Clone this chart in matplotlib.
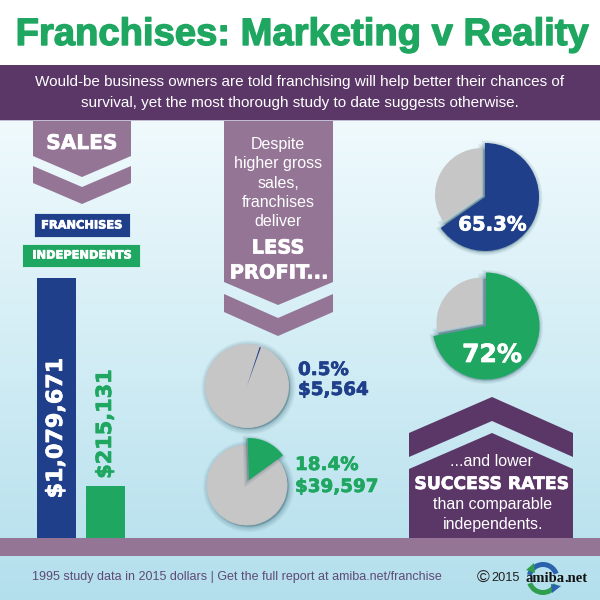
import numpy as np
import matplotlib
matplotlib.use("Agg")
import matplotlib.pyplot as plt
import matplotlib.patheffects as pe
from matplotlib.patches import Polygon, Rectangle, Wedge

plt.rcParams['font.family'] = ['Liberation Sans', 'DejaVu Sans']

# chart values
categories = ['FRANCHISES', 'INDEPENDENTS']
sales = [1079671, 215131]
sales_labels = ['$1,079,671', '$215,131']
success_rates = [65.3, 72.0]
success_labels = ['65.3%', '72%']
profit_shares = [0.5, 15.6]    # as drawn, the green slice is smaller than its 18.4% label
profit_labels = ['0.5%\n$5,564', '18.4%\n$39,597']

BLUE = '#1f3f8b'
GREEN = '#1fa761'
GRAY = '#c6c6c6'
PURPLE = '#5b3768'
MAUVE = '#947596'
SHADOW = '#24505f'


def px_axes(fig, left, top, right, bottom, **kw):
    # axes from pixel edges, y counted from the top of a 600px figure
    return fig.add_axes([left/600, 1-bottom/600, (right-left)/600, (bottom-top)/600], **kw)


def shadow(ax, center, r, t1, t2, dx=1.5, dy=-1.5):
    for w in [8, 6.5, 5, 3.5, 2.5, 1.5, 0.8]:
        ax.add_patch(Wedge((center[0]+dx, center[1]+dy), r, t1, t2, fc=SHADOW, ec=SHADOW,
                           lw=w, alpha=0.05, zorder=0))


def slice_pie(fig, cx, cy, share, color, startangle, r_col, r_gray, gray_off=(0, 0), full_gray=False):
    ax = px_axes(fig, cx-70, cy-70, cx+70, cy+70, zorder=3)
    ax.patch.set_alpha(0)
    vals = [share, 100-share]
    a2 = startangle - share*3.6
    if full_gray:
        shadow(ax, gray_off, r_gray, 0, 360)
        ax.pie(vals, colors=[GRAY, GRAY], radius=r_gray, center=gray_off, startangle=startangle,
               counterclock=False, wedgeprops={'ec': GRAY, 'lw': 0.6})
    else:
        shadow(ax, gray_off, r_gray, a2, startangle)
        ax.pie(vals, colors=['none', GRAY], radius=r_gray, center=gray_off,
               startangle=startangle, counterclock=False)
    # colored slice shadow falls on the gray, so it goes over it
    if share > 2:
        for w in [5, 3.5, 2, 1]:
            ax.add_patch(Wedge((-1.5 if full_gray else 0, -1), r_col, a2, startangle, fc=SHADOW, ec=SHADOW,
                               lw=w, alpha=0.07, zorder=1.5))
    ax.pie(vals, colors=[color, 'none'], radius=r_col, startangle=startangle, counterclock=False,
           wedgeprops={'zorder': 2})
    ax.set_xlim(-70, 70)
    ax.set_ylim(-70, 70)
    ax.set_aspect('equal')
    return ax


fig = plt.figure(figsize=(6, 6), dpi=100)

# background, shapes
bg = fig.add_axes([0, 0, 1, 1], zorder=0)
bg.axis('off')
grad = np.linspace(0, 1, 256).reshape(-1, 1)
top_col = np.array([0xf0, 0xfa, 0xfd])/255
bot_col = np.array([0xb3, 0xdf, 0xec])/255
bg.imshow(top_col + grad[:, :, None]*(bot_col-top_col), extent=[0, 600, 600, 120], aspect='auto', zorder=0)
bg.set_xlim(0, 600)
bg.set_ylim(600, 0)
bg.add_patch(Rectangle((0, 65), 600, 55, fc=PURPLE, ec='none', zorder=1))
bg.add_patch(Rectangle((0, 120), 600, 1.2, fc='#c2bcd6', ec='none', zorder=1))
bg.add_patch(Rectangle((0, 538), 600, 18, fc=MAUVE, ec='none', zorder=1))

shapes = [
    ([(33, 121), (131, 121), (131, 156), (82, 177), (33, 156)], MAUVE),
    ([(33, 166), (82, 187), (131, 166), (131, 183), (82, 204), (33, 183)], MAUVE),
    ([(224, 121), (333, 121), (333, 282), (278, 305), (224, 282)], MAUVE),
    ([(224, 294), (278, 318), (333, 294), (333, 312), (278, 336), (224, 312)], MAUVE),
    ([(409, 433), (492, 397), (573, 433), (573, 457), (492, 421), (409, 457)], PURPLE),
    ([(409, 469), (492, 433), (573, 469), (573, 538), (409, 538)], PURPLE),
]
for pts, col in shapes:
    bg.add_patch(Polygon(pts, closed=True, fc=col, ec='none', zorder=2))

bg.add_patch(Rectangle((33.5, 213), 96, 24, fc=BLUE, ec='#e4f4f9', lw=0.6, zorder=2))
bg.add_patch(Rectangle((22, 243.5), 118, 23, fc=GREEN, ec='#e4f4f9', lw=0.6, zorder=2))

# bars
ax_bar = px_axes(fig, 37, 277.5, 125, 538, zorder=2)
ax_bar.patch.set_alpha(0)
ax_bar.bar([0, 1], sales, width=0.81, color=[BLUE, GREEN], align='edge')
ax_bar.set_xlim(0, 1.81)
ax_bar.set_ylim(0, sales[0])
ax_bar.axis('off')

# pies
slice_pie(fig, 485, 197, success_rates[0], BLUE, 90, 54, 47, gray_off=(-3, 2))
slice_pie(fig, 486, 326, success_rates[1], GREEN, 90, 53.5, 45.5, gray_off=(-4, 3))
slice_pie(fig, 247, 386, profit_shares[0], BLUE, 72, 41, 41.5, full_gray=True)
slice_pie(fig, 249, 480, profit_shares[1], GREEN, 92, 42, 40, gray_off=(-2, -5), full_gray=True)

# text layer
tx = fig.add_axes([0, 0, 1, 1], zorder=5)
tx.set_xlim(0, 600)
tx.set_ylim(600, 0)
tx.axis('off')
tx.patch.set_alpha(0)


def heavy(x, y, s, size, color='white', **kw):
    kw.setdefault('ha', 'center')
    kw.setdefault('va', 'center')
    t = tx.text(x, y, s, fontsize=size, color=color, family='DejaVu Sans', fontweight='bold', **kw)
    t.set_path_effects([pe.withStroke(linewidth=0.5, foreground=color)])
    return t


title = tx.text(302.5, 35, 'Franchises: Marketing v Reality', fontsize=27.5, color=GREEN,
                fontweight='bold', ha='center', va='center')
title.set_path_effects([pe.withStroke(linewidth=1.0, foreground=GREEN)])
tx.text(300, 92.5, 'Would-be business owners are told franchising will help better their chances of\n'
        'survival, yet the most thorough study to date suggests otherwise.',
        fontsize=11, color='white', ha='center', va='center', linespacing=1.6)

heavy(82, 143.5, 'SALES', 14.5)
heavy(81.5, 225.5, categories[0], 8.2)
heavy(82, 255.5, categories[1], 8.2)
heavy(56, 428, sales_labels[0], 16, rotation=90)
heavy(105, 424, sales_labels[1], 15, color=GREEN, rotation=90)

tx.text(278, 183, 'Despite\nhigher gross\nsales,\nfranchises\ndeliver', fontsize=11.5, color='white',
        ha='center', va='center', linespacing=1.36)
heavy(278, 248, 'LESS', 14)
heavy(279, 273, 'PROFIT...', 14)

heavy(492.5, 225, success_labels[0], 14.2)
heavy(492, 355, success_labels[1], 18)

heavy(298, 370, profit_labels[0].split('\n')[0], 13.2, color=BLUE, ha='left')
heavy(298, 390, profit_labels[0].split('\n')[1], 13.2, color=BLUE, ha='left')
heavy(295, 465, profit_labels[1].split('\n')[0], 13.2, color=GREEN, ha='left')
heavy(295, 487, profit_labels[1].split('\n')[1], 13.2, color=GREEN, ha='left')

tx.text(491, 462, '...and lower', fontsize=11.5, color='white', ha='center', va='center')
heavy(492, 484, 'SUCCESS RATES', 12.4)
tx.text(493, 505, 'than comparable', fontsize=11.5, color='white', ha='center', va='center')
tx.text(493, 525, 'independents.', fontsize=11.5, color='white', ha='center', va='center')

tx.text(32, 577, '1995 study data in 2015 dollars | Get the full report at amiba.net/franchise',
        fontsize=9, color='#5f4a78', ha='left', va='center')
tx.text(477, 578, '©', fontsize=12.5, color='#222222', ha='left', va='center')
tx.text(491, 578, '2015', fontsize=9.2, color='#222222', ha='left', va='center')

# logo
tx.add_patch(Wedge((543, 578.5), 16.5, 25, 160, width=5, fc='#2f9e4f', ec='none', zorder=1))
tx.add_patch(Wedge((543, 578.5), 16.5, 195, 340, width=5, fc='#2a62ad', ec='none', zorder=1))
tx.add_patch(Polygon([(526, 570), (534, 563), (535, 573)], closed=True, fc='#2f9e4f', ec='none', zorder=1))
tx.add_patch(Polygon([(561, 586), (552, 593), (551, 584)], closed=True, fc='#2a62ad', ec='none', zorder=1))
tx.text(526, 582, 'amiba', fontsize=10.5, family='Liberation Serif', fontweight='bold',
        color='#111111', ha='left', va='baseline', zorder=3)
tx.text(564, 582, '.net', fontsize=10.5, family='Liberation Serif', fontweight='bold',
        color='#111111', ha='left', va='baseline', zorder=3)

fig.savefig('out.png', dpi=100)
